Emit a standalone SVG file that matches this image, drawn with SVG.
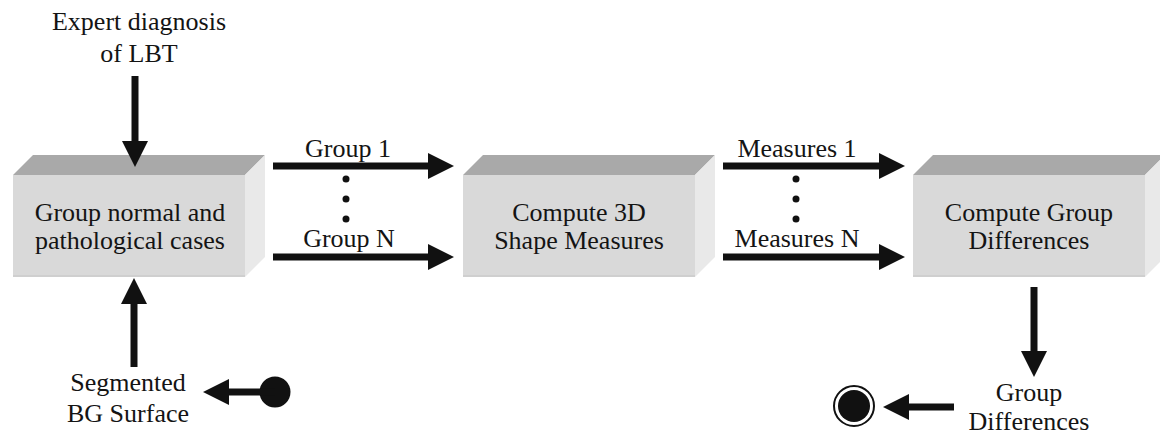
<svg xmlns="http://www.w3.org/2000/svg" width="1160" height="436" viewBox="0 0 1160 436">
  <style>
    text { font-family: "Liberation Serif", "Times New Roman", serif; font-size: 26px; fill: #141414; text-anchor: middle; }
    .front { fill: #d9d9d9; }
    .top { fill: #a9a9a9; }
    .side { fill: #e9e9e9; }
    .edge { stroke: #cfcfcf; stroke-width: 2; }
    .shaft { stroke: #111; stroke-width: 7; fill: none; }
    .dot { fill: #111; }
  </style>
  <defs>
    <!-- 3D block: front face 232x102, depth offset 20 up/right -->
    <g id="block">
      <polygon class="top" points="0,20 20,0 252,0 232,20"/>
      <polygon class="side" points="232,20 252,0 252,102 232,122"/>
      <rect class="front" x="0" y="20" width="232" height="102"/>
      <line class="edge" x1="0" y1="121" x2="232" y2="121"/>
    </g>
    <marker id="head" viewBox="0 0 26 26" refX="0" refY="13" markerWidth="26" markerHeight="26" markerUnits="userSpaceOnUse" orient="auto">
      <polygon points="0,0 26,13 0,26" fill="#111"/>
    </marker>
  </defs>

  <!-- process blocks -->
  <g id="node-group-cases">
    <use href="#block" x="13" y="155"/>
    <text x="130" y="221">Group normal and</text>
    <text x="130" y="249">pathological cases</text>
  </g>
  <g id="node-shape-measures">
    <use href="#block" x="463" y="155"/>
    <text x="579" y="221">Compute 3D</text>
    <text x="579" y="249">Shape Measures</text>
  </g>
  <g id="node-group-differences">
    <use href="#block" x="913" y="155"/>
    <text x="1029" y="221">Compute Group</text>
    <text x="1029" y="249">Differences</text>
  </g>

  <!-- inputs and outputs -->
  <g id="node-expert">
    <text x="139" y="30">Expert diagnosis</text>
    <text x="139" y="62">of LBT</text>
  </g>
  <g id="node-segmented">
    <text x="128" y="391">Segmented</text>
    <text x="128" y="422">BG Surface</text>
  </g>
  <g id="node-start">
    <circle cx="275" cy="392" r="15.5" fill="#111"/>
  </g>
  <g id="node-result">
    <text x="1029" y="401">Group</text>
    <text x="1029" y="430">Differences</text>
  </g>
  <g id="node-end">
    <circle cx="854" cy="406" r="20" fill="#fff" stroke="#111" stroke-width="2"/>
    <circle cx="854" cy="406" r="16" fill="#111"/>
  </g>

  <!-- connectors -->
  <g id="connectors">
    <line class="shaft" x1="135" y1="76" x2="135" y2="141" marker-end="url(#head)"/>
    <line class="shaft" x1="134" y1="367" x2="134" y2="304" marker-end="url(#head)"/>
    <line class="shaft" x1="275" y1="392" x2="229" y2="392" marker-end="url(#head)"/>

    <line class="shaft" x1="273" y1="166" x2="428" y2="166" marker-end="url(#head)"/>
    <line class="shaft" x1="273" y1="257" x2="428" y2="257" marker-end="url(#head)"/>
    <text x="348" y="157">Group 1</text>
    <text x="349" y="247">Group N</text>
    <circle class="dot" cx="346" cy="179" r="3.5"/>
    <circle class="dot" cx="346" cy="199" r="3.5"/>
    <circle class="dot" cx="346" cy="219" r="3.5"/>

    <line class="shaft" x1="723" y1="166" x2="879" y2="166" marker-end="url(#head)"/>
    <line class="shaft" x1="723" y1="257" x2="879" y2="257" marker-end="url(#head)"/>
    <text x="797" y="157">Measures 1</text>
    <text x="797" y="247">Measures N</text>
    <circle class="dot" cx="796" cy="179" r="3.5"/>
    <circle class="dot" cx="796" cy="199" r="3.5"/>
    <circle class="dot" cx="796" cy="219" r="3.5"/>

    <line class="shaft" x1="1034" y1="287" x2="1034" y2="351" marker-end="url(#head)"/>
    <line class="shaft" x1="954" y1="407" x2="909" y2="407" marker-end="url(#head)"/>
  </g>
</svg>
